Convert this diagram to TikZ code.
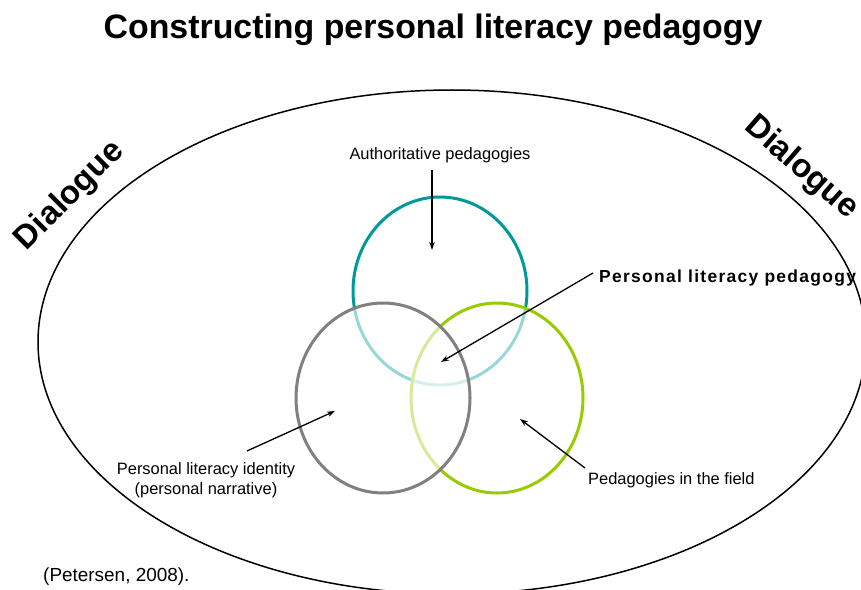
\documentclass[tikz,border=0pt]{standalone}
\usepackage{fontspec}
\setmainfont{Liberation Sans}
\usetikzlibrary{arrows.meta}
\definecolor{tealc}{RGB}{0,153,153}
\definecolor{greyc}{RGB}{128,128,128}
\definecolor{greenc}{RGB}{153,204,0}
\begin{document}
\begin{tikzpicture}[x=1bp,y=-1bp,
  venn/.style={line width=3bp, fill=white, fill opacity=0.6, draw opacity=1},
  lbl/.style={font=\fontsize{16.5}{20}\selectfont, inner sep=0pt, align=center},
  ptr/.style={line width=1.3bp, -{Stealth[length=8bp,width=5.5bp]}},
  dlg/.style={font=\fontsize{33}{36}\selectfont\bfseries, inner sep=0pt}]
\useasboundingbox (0,0) rectangle (861,590);
\clip (0,0) rectangle (861,590);
\node[font=\fontsize{34}{38}\selectfont\bfseries, inner sep=0pt] (title) at (433,30) {Constructing personal literacy pedagogy};
\draw[line width=1.5bp] (452,342) ellipse [x radius=414, y radius=252];
% Venn circles
\draw[venn, draw=tealc] (440,291) ellipse [x radius=87, y radius=94];
\draw[venn, draw=greenc] (497,398) ellipse [x radius=86, y radius=95];
\draw[venn, draw=greyc] (383,398) ellipse [x radius=87, y radius=95];
% labels
\node[lbl] (auth) at (440,155) {Authoritative pedagogies};
\node[lbl, font=\fontsize{17.5}{20}\selectfont\bfseries\addfontfeatures{LetterSpace=7.5}, anchor=west] (plp) at (599,278) {Personal literacy pedagogy};
\node[lbl] (pli) at (206,480) {Personal literacy identity\\(personal narrative)};
\node[lbl, anchor=west] (pif) at (588,480) {Pedagogies in the field};
\node[font=\fontsize{19}{22}\selectfont, anchor=west, inner sep=0pt] (cite) at (43,577) {(Petersen, 2008).};
\node[dlg, rotate=45] (dl) at (70,196) {Dialogue};
\node[dlg, rotate=-41] (dr) at (801,168) {Dialogue};
% arrows
\coordinate (authS) at (432,170); \coordinate (authT) at (432,250);
\coordinate (plpS) at (593,273); \coordinate (plpT) at (441,362);
\coordinate (pliS) at (247,451); \coordinate (pliT) at (335,411);
\coordinate (pifS) at (585,468); \coordinate (pifT) at (520,419);
\draw[ptr] (authS) -- (authT);
\draw[ptr] (plpS) -- (plpT);
\draw[ptr] (pliS) -- (pliT);
\draw[ptr] (pifS) -- (pifT);
\end{tikzpicture}
\end{document}
